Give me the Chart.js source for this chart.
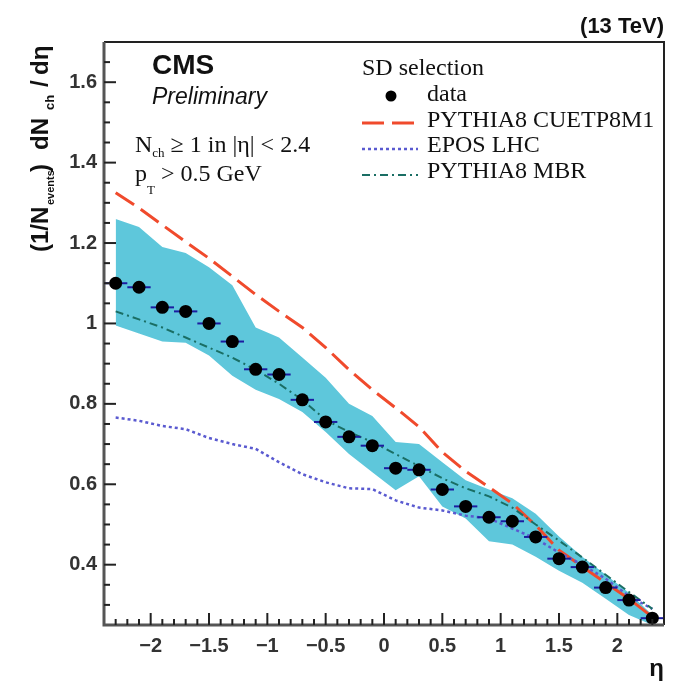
<!DOCTYPE html>
<html>
<head>
<meta charset="utf-8">
<script src="https://cdn.jsdelivr.net/npm/chart.js@4.4.0/dist/chart.umd.min.js"></script>
<style>
body { margin: 0; background: #fff; }
#wrap { width: 673px; height: 685px; }
</style>
</head>
<body>
<div id="wrap"><canvas id="myChart" width="673" height="685"></canvas></div>
<script>
// eta bin centres, bins are 0.2 wide
var etaBins = [-2.3, -2.1, -1.9, -1.7, -1.5, -1.3, -1.1, -0.9, -0.7, -0.5, -0.3, -0.1,
               0.1, 0.3, 0.5, 0.7, 0.9, 1.1, 1.3, 1.5, 1.7, 1.9, 2.1, 2.3];
var binHalf = 0.1;

// measured dN/deta, SD selection
var dataVals = [1.10, 1.09, 1.04, 1.03, 1.00, 0.955, 0.886, 0.873, 0.81, 0.755, 0.718, 0.696,
                0.64, 0.636, 0.587, 0.545, 0.518, 0.508, 0.469, 0.415, 0.394, 0.343, 0.312, 0.267];
// systematic band
var bandHigh = [1.26, 1.24, 1.19, 1.175, 1.14, 1.095, 0.99, 0.965, 0.915, 0.865, 0.80, 0.77,
                0.705, 0.70, 0.655, 0.61, 0.587, 0.565, 0.527, 0.47, 0.42, 0.375, 0.33, 0.275];
var bandLow  = [0.995, 0.975, 0.955, 0.952, 0.92, 0.87, 0.835, 0.812, 0.78, 0.73, 0.675, 0.63,
                0.585, 0.62, 0.545, 0.515, 0.458, 0.45, 0.42, 0.385, 0.355, 0.315, 0.275, 0.25];

// generator predictions
var pythiaCUETP8M1 = [1.325, 1.287, 1.245, 1.203, 1.162, 1.117, 1.072, 1.03, 0.99, 0.94, 0.885, 0.835,
                      0.79, 0.743, 0.68, 0.632, 0.593, 0.552, 0.498, 0.436, 0.395, 0.355, 0.315, 0.27];
var eposLHC = [0.766, 0.758, 0.745, 0.737, 0.715, 0.70, 0.688, 0.655, 0.625, 0.605, 0.59, 0.588,
               0.56, 0.542, 0.535, 0.522, 0.515, 0.49, 0.465, 0.43, 0.40, 0.365, 0.322, 0.29];
var pythiaMBR = [1.03, 1.01, 0.99, 0.965, 0.94, 0.915, 0.885, 0.85, 0.81, 0.76, 0.73, 0.705,
                 0.675, 0.645, 0.615, 0.59, 0.57, 0.542, 0.50, 0.46, 0.418, 0.375, 0.332, 0.29];

var xTicks = [-2, -1.5, -1, -0.5, 0, 0.5, 1, 1.5, 2];
var yTicks = [0.4, 0.6, 0.8, 1, 1.2, 1.4, 1.6];

function pts(vals) {
    return etaBins.map(function (x, i) { return { x: x, y: vals[i] }; });
}

var sans = "'Liberation Sans', Arial, sans-serif";
var serif = "'Liberation Serif', 'Times New Roman', serif";

// draws a run of text pieces (for sub/superscripts); 'at' pins a piece to a fixed offset
function drawParts(ctx, parts, x, y) {
    var x0 = x;
    parts.forEach(function (p) {
        if (p.at !== undefined) x = x0 + p.at;
        ctx.font = p.font;
        ctx.fillText(p.text, x, y + (p.dy || 0));
        x += ctx.measureText(p.text).width;
    });
}

// error bars of the data points (horizontal = bin width)
var errBars = {
    id: 'errBars',
    beforeDatasetDraw: function (chart, args) {
        if (args.index !== 5) return;
        var ctx = chart.ctx, xs = chart.scales.x, ys = chart.scales.y;
        ctx.save();
        ctx.strokeStyle = '#1c1ca0';
        ctx.lineWidth = 2;
        etaBins.forEach(function (e, i) {
            var y = ys.getPixelForValue(dataVals[i]);
            ctx.beginPath();
            ctx.moveTo(xs.getPixelForValue(e - binHalf), y);
            ctx.lineTo(xs.getPixelForValue(e + binHalf), y);
            ctx.stroke();
        });
        ctx.restore();
    }
};

// frame, inward ticks and all the text around the plot
var decor = {
    id: 'decor',
    afterDraw: function (chart) {
        var ctx = chart.ctx, a = chart.chartArea, xs = chart.scales.x, ys = chart.scales.y;
        ctx.save();

        // frame
        ctx.strokeStyle = '#222';
        ctx.lineWidth = 2;
        ctx.beginPath();
        ctx.moveTo(a.left, a.top); ctx.lineTo(a.right, a.top); ctx.lineTo(a.right, a.bottom);
        ctx.stroke();
        ctx.strokeStyle = '#555';
        ctx.lineWidth = 3;
        ctx.beginPath();
        ctx.moveTo(a.left, a.top); ctx.lineTo(a.left, a.bottom); ctx.lineTo(a.right, a.bottom);
        ctx.stroke();

        // ticks
        ctx.strokeStyle = '#222';
        ctx.lineWidth = 2;
        var v, p, len;
        for (v = -23; v <= 23; v++) {
            p = xs.getPixelForValue(v / 10);
            len = (v % 5 === 0) ? 12 : 6;
            ctx.beginPath(); ctx.moveTo(p, a.bottom); ctx.lineTo(p, a.bottom - len); ctx.stroke();
        }
        for (v = 30; v <= 165; v += 5) {
            p = ys.getPixelForValue(v / 100);
            len = (v % 20 === 0) ? 12 : 6;
            ctx.beginPath(); ctx.moveTo(a.left, p); ctx.lineTo(a.left + len, p); ctx.stroke();
        }

        ctx.fillStyle = '#111';
        ctx.textBaseline = 'alphabetic';

        // y title, rotated
        ctx.save();
        ctx.translate(48, 252);
        ctx.rotate(-Math.PI / 2);
        ctx.textAlign = 'left';
        drawParts(ctx, [
            { text: '(1/N', font: 'bold 24px ' + sans },
            { text: 'events', font: 'bold 11px ' + sans, dy: 6, at: 47 },
            { text: ')', font: 'bold 24px ' + sans, at: 80 },
            { text: 'dN', font: 'bold 24px ' + sans, at: 102 },
            { text: 'ch', font: 'bold 13px ' + sans, dy: 6, at: 142 },
            { text: '/', font: 'bold 24px ' + sans, at: 165 },
            { text: 'd\u03b7', font: 'bold 24px ' + sans, at: 177 }
        ], 0, 0);
        ctx.restore();

        // x title
        ctx.textAlign = 'right';
        ctx.font = 'bold 24px ' + sans;
        ctx.fillText('\u03b7', a.right, 676);

        // energy label
        ctx.font = 'bold 22px ' + sans;
        ctx.fillText('(13 TeV)', a.right, 33);

        ctx.textAlign = 'left';
        ctx.font = 'bold 28px ' + sans;
        ctx.fillText('CMS', 152, 74);
        ctx.font = 'italic 23px ' + sans;
        ctx.fillText('Preliminary', 152, 104);

        drawParts(ctx, [
            { text: 'N', font: '24px ' + serif },
            { text: 'ch', font: '13px ' + serif, dy: 5 },
            { text: ' \u2265 1 in |\u03b7| < 2.4', font: '24px ' + serif }
        ], 135, 152);
        drawParts(ctx, [
            { text: 'p', font: '24px ' + serif },
            { text: 'T', font: '13px ' + serif, dy: 13 },
            { text: ' > 0.5 GeV', font: '24px ' + serif }
        ], 135, 181);

        // legend
        var ds = chart.data.datasets;
        ctx.font = '24px ' + serif;
        ctx.fillText('SD selection', 362, 75);
        ctx.fillText('data', 427, 101);
        ctx.fillText('PYTHIA8 CUETP8M1', 427, 127);
        ctx.fillText('EPOS LHC', 427, 152);
        ctx.fillText('PYTHIA8 MBR', 427, 178);

        ctx.fillStyle = '#000';
        ctx.beginPath(); ctx.arc(391, 96, 5.5, 0, Math.PI * 2); ctx.fill();

        [[2, 123], [3, 149], [4, 175]].forEach(function (r) {
            var d = ds[r[0]];
            ctx.strokeStyle = d.borderColor;
            ctx.lineWidth = d.borderWidth;
            ctx.setLineDash(d.borderDash);
            ctx.beginPath(); ctx.moveTo(362, r[1]); ctx.lineTo(418, r[1]); ctx.stroke();
        });
        ctx.setLineDash([]);

        ctx.restore();
    }
};

function tickText(v) {
    if (v === 0) return '0';
    return (v < 0 ? '\u2212' : '') + Math.abs(v);
}

var tickFont = { family: sans, size: 20, weight: 'bold' };

new Chart(document.getElementById('myChart'), {
    type: 'line',
    data: {
        datasets: [
            { label: 'band', data: pts(bandHigh), borderWidth: 0, pointRadius: 0,
              backgroundColor: '#5ec7db', fill: '+1', order: 4 },
            { label: 'band low', data: pts(bandLow), borderWidth: 0, pointRadius: 0,
              fill: false, order: 5 },
            { label: 'PYTHIA8 CUETP8M1', data: pts(pythiaCUETP8M1), borderColor: '#f04a2c',
              borderWidth: 3, borderDash: [22, 8], pointRadius: 0, fill: false, order: 3 },
            { label: 'EPOS LHC', data: pts(eposLHC), borderColor: '#5a5ad0',
              borderWidth: 2.5, borderDash: [3, 3], pointRadius: 0, fill: false, order: 2 },
            { label: 'PYTHIA8 MBR', data: pts(pythiaMBR), borderColor: '#1a6e64',
              borderWidth: 2, borderDash: [8, 4, 2, 4], pointRadius: 0, fill: false, order: 1 },
            { label: 'data', data: pts(dataVals), showLine: false, pointRadius: 6.5,
              pointBackgroundColor: '#000', pointBorderWidth: 0, order: 0 }
        ]
    },
    options: {
        responsive: false,
        animation: false,
        layout: { padding: { top: 42, right: 9, left: 0, bottom: 0 } },
        plugins: { legend: { display: false }, tooltip: { enabled: false } },
        scales: {
            x: {
                type: 'linear', min: -2.4, max: 2.4,
                grid: { display: false, drawTicks: false },
                border: { display: false },
                ticks: { font: tickFont, color: '#333', padding: 9, maxRotation: 0, callback: tickText },
                afterBuildTicks: function (s) { s.ticks = xTicks.map(function (v) { return { value: v }; }); },
                afterFit: function (s) { s.height = 60; }
            },
            y: {
                type: 'linear', min: 0.25, max: 1.7,
                grid: { display: false, drawTicks: false },
                border: { display: false },
                ticks: { font: tickFont, color: '#333', padding: 7, callback: tickText },
                afterBuildTicks: function (s) { s.ticks = yTicks.map(function (v) { return { value: v }; }); },
                afterFit: function (s) { s.width = 104; }
            }
        }
    },
    plugins: [errBars, decor]
});
</script>
</body>
</html>
